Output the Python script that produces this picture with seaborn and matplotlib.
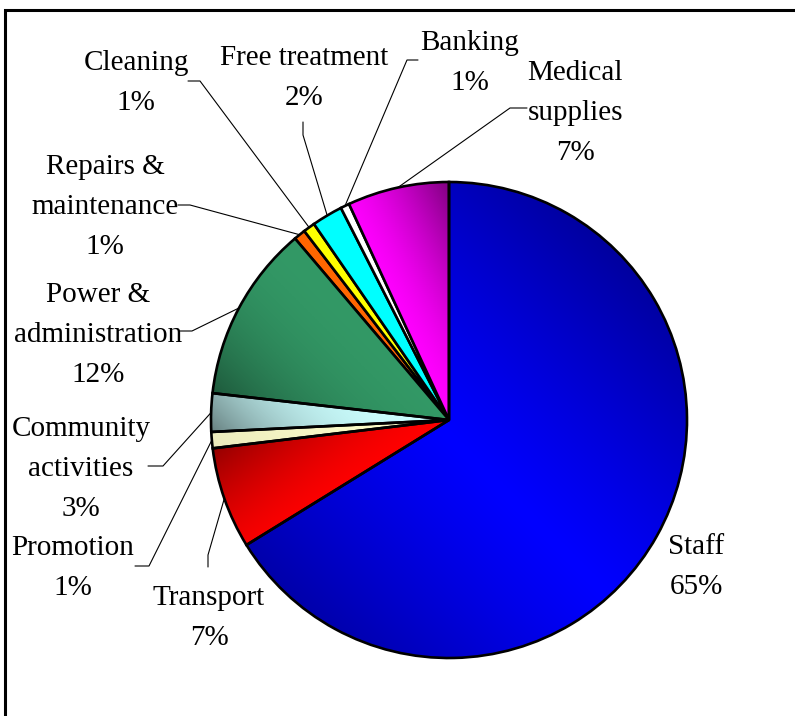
import numpy as np
import seaborn as sns
import matplotlib.pyplot as plt
from matplotlib.colors import to_rgb
from matplotlib.patches import Rectangle

sns.set_theme(style='white')
plt.rcParams['font.family'] = ['Liberation Serif', 'DejaVu Serif']

# slices, clockwise from 12 o'clock
categories = ['Staff', 'Transport', 'Promotion', 'Community\nactivities',
              'Power &\nadministration', 'Repairs &\nmaintenance', 'Cleaning',
              'Free treatment', 'Banking', 'Medical\nsupplies']
shares = [66.2, 6.9, 1.1, 2.6, 12.0, 0.8, 0.8, 2.1, 0.6, 6.9]
pct_labels = ['65%', '7%', '1%', '3%', '12%', '1%', '1%', '2%', '1%', '7%']
colors = ['#0000FF', '#FF0000', '#FFFFCC', '#CCFFFF', '#339966',
          '#FF6600', '#FFFF00', '#00FFFF', '#FFFFFF', '#FF00FF']

# pie centre / radius in image pixels
CX, CY, R = 449, 420, 238
W, H = 795, 716

def to_data(px, py):
    return (px - CX) / R, (CY - py) / R

# label block centres (pixels) and leader start + elbow (pixels)
label_pos = [(696, 567), (209, 618), (73, 568), (81, 469), (98, 335),
             (105, 207), (136, 83), (304, 78), (470, 63), (575, 113)]
leaders = [None,
           [(208, 567), (208, 555)],
           [(135, 566), (149, 566)],
           [(148, 466), (163, 466)],
           [(180, 331), (192, 331)],
           [(178, 205), (190, 205)],
           [(188, 81), (200, 81)],
           [(303, 122), (303, 135)],
           [(418, 60), (407, 60)],
           [(527, 108), (510, 108)]]

# gradient fill per slice: direction of darkening, strength, exponent, kind
shading = [((0.707, 0.707), 0.38, 1.2, 'band'),
           ((-0.6, 0.8), 0.42, 1.6, 'lin'),
           ((-0.7, -0.7), 0.08, 1.5, 'lin'),
           ((-0.7, -0.7), 0.5, 2.6, 'lin'),
           ((-0.7, -0.7), 0.42, 2.2, 'lin'),
           (None, 0, 1, 'flat'),
           (None, 0, 1, 'flat'),
           (None, 0, 1, 'flat'),
           (None, 0, 1, 'flat'),
           ((1.0, 0.5), 0.5, 1.5, 'lin')]

fig = plt.figure(figsize=(W / 100, H / 100), dpi=100)
ax = fig.add_axes([0, 0, 1, 1])

palette = sns.color_palette(colors)
wedges, _ = ax.pie(shares, colors=palette, startangle=90, counterclock=False,
                   wedgeprops=dict(edgecolor='black', linewidth=1.9))

# shaded fills clipped to each wedge
n = 600
g = np.linspace(-1, 1, n)
X, Y = np.meshgrid(g, g)
rad = np.hypot(X, Y)
ang = np.degrees(np.arctan2(Y, X))
for w, col, (vec, amt, gam, kind) in zip(wedges, colors, shading):
    if kind == 'flat':
        continue
    inside = (rad <= 1.01) & (((ang - w.theta1) % 360) <= (w.theta2 - w.theta1))
    proj = X * vec[0] + Y * vec[1]
    if kind == 'band':
        t = np.abs(proj + 0.05) / np.abs(proj[inside] + 0.05).max()
    else:
        p = proj[inside]
        t = (proj - p.min()) / (p.max() - p.min())
    t = np.clip(t, 0, 1)
    dark = amt * t ** gam
    img = np.array(to_rgb(col))[None, None, :] * (1 - dark[..., None])
    im = ax.imshow(img, extent=(-1, 1, -1, 1), origin='lower',
                   interpolation='bilinear', zorder=1.5)
    im.set_clip_path(w)
    w.set_facecolor('none')
    w.set_zorder(2.5)

# labels and leader lines
for w, name, pct, pos, lead in zip(wedges, categories, pct_labels, label_pos, leaders):
    x, y = to_data(*pos)
    ax.text(x, y, f'{name}\n{pct}', ha='center', va='center', fontsize=21,
            linespacing=1.72, color='black')
    if lead is None:
        continue
    mid = np.radians((w.theta1 + w.theta2) / 2)
    pts = [to_data(*p) for p in lead] + [(np.cos(mid), np.sin(mid))]
    ax.plot([p[0] for p in pts], [p[1] for p in pts], color='black', lw=0.8, zorder=2)

ax.set_xlim(to_data(0, 0)[0], to_data(W, 0)[0])
ax.set_ylim(to_data(0, H)[1], to_data(0, 0)[1])
ax.set_aspect('equal')
ax.axis('off')

# chart border (only top and left edges fall inside the image)
fig.add_artist(Rectangle((4.5 / W, -0.2), 1.5, 1.2 - 10 / H, transform=fig.transFigure,
                         fill=False, edgecolor='black', linewidth=2.2))

fig.savefig('out.png', dpi=100)
